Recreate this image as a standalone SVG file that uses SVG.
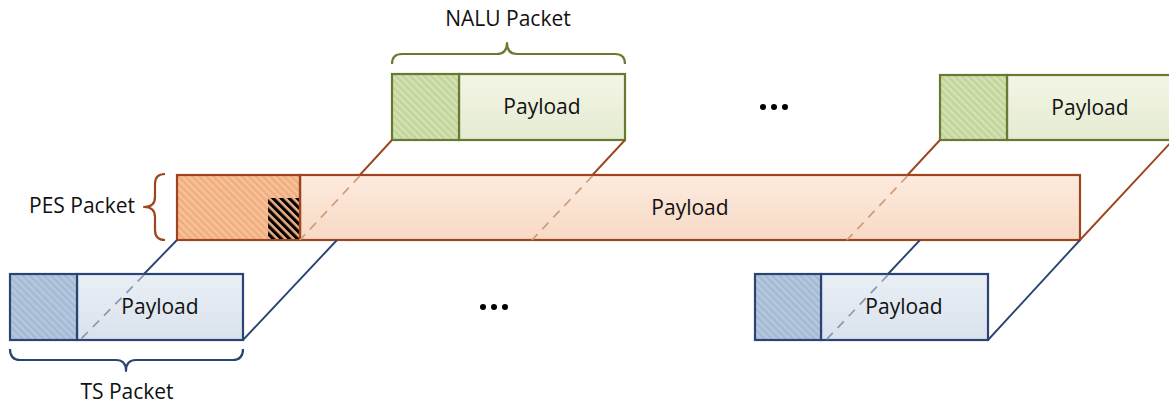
<svg xmlns="http://www.w3.org/2000/svg" width="1169" height="407" viewBox="0 0 1169 407">
  <style>
    .lbl { font-family: "Open Sans", "Liberation Sans", sans-serif; font-size: 21px; fill: #111; }
    .mid { text-anchor: middle; }
    .end { text-anchor: end; }
    .g-box { stroke: #687a30; stroke-width: 2.2; }
    .o-box { stroke: #9e4520; stroke-width: 2.2; }
    .b-box { stroke: #2a4474; stroke-width: 2.2; }
    .brace { fill: none; stroke-width: 2.2; stroke-linejoin: round; }
    .o-line { stroke: #9e4520; stroke-width: 1.9; fill: none; }
    .o-dash { stroke: #cf9c78; stroke-width: 1.7; stroke-dasharray: 9 7; fill: none; }
    .b-line { stroke: #2a4474; stroke-width: 1.9; fill: none; }
    .b-dash { stroke: #8797b4; stroke-width: 1.7; stroke-dasharray: 9 7; fill: none; }
    .dot { fill: #000; }
  </style>
  <defs>
    <linearGradient id="gradG" x1="0" y1="0" x2="0" y2="1">
      <stop offset="0" stop-color="#f2f5e5"/>
      <stop offset="1" stop-color="#e5ebd2"/>
    </linearGradient>
    <linearGradient id="gradO" x1="0" y1="0" x2="0" y2="1">
      <stop offset="0" stop-color="#fdebde"/>
      <stop offset="1" stop-color="#f7d9c5"/>
    </linearGradient>
    <linearGradient id="gradB" x1="0" y1="0" x2="0" y2="1">
      <stop offset="0" stop-color="#eaeff5"/>
      <stop offset="1" stop-color="#d9e2ec"/>
    </linearGradient>
    <!-- diagonal stripe fills for the header cells -->
    <pattern id="hatchG" width="5" height="5" patternUnits="userSpaceOnUse" patternTransform="rotate(-45)">
      <rect width="5" height="5" fill="#d3e1b5"/>
      <rect width="2.5" height="5" fill="#c2d499"/>
    </pattern>
    <pattern id="hatchO" width="5" height="5" patternUnits="userSpaceOnUse" patternTransform="rotate(-45)">
      <rect width="5" height="5" fill="#f6c19b"/>
      <rect width="2.5" height="5" fill="#f0ad7e"/>
    </pattern>
    <pattern id="hatchB" width="5" height="5" patternUnits="userSpaceOnUse" patternTransform="rotate(-45)">
      <rect width="5" height="5" fill="#b6c8de"/>
      <rect width="2.5" height="5" fill="#a4bad4"/>
    </pattern>
    <pattern id="hatchK" width="5.7" height="5.7" patternUnits="userSpaceOnUse" patternTransform="rotate(-45)">
      <rect width="5.7" height="5.7" fill="#f2b183"/>
      <rect width="3.2" height="5.7" fill="#000"/>
    </pattern>
  </defs>

  <!-- NALU packet 1 -->
  <g id="nalu1">
    <rect x="459" y="74" width="166" height="66" fill="url(#gradG)" class="g-box"/>
    <rect x="392" y="74" width="67" height="66" fill="url(#hatchG)" class="g-box"/>
    <text x="542" y="114" class="lbl mid">Payload</text>
  </g>

  <!-- NALU packet 2 -->
  <g id="nalu2">
    <rect x="1007" y="75" width="166" height="65" fill="url(#gradG)" class="g-box"/>
    <rect x="940" y="75" width="67" height="65" fill="url(#hatchG)" class="g-box"/>
    <text x="1090" y="115" class="lbl mid">Payload</text>
  </g>

  <!-- PES packet -->
  <g id="pes">
    <rect x="300" y="175" width="780" height="65" fill="url(#gradO)" class="o-box"/>
    <rect x="177" y="175" width="123" height="65" fill="url(#hatchO)" class="o-box"/>
    <rect x="268" y="198" width="31" height="41" fill="url(#hatchK)"/>
    <line x1="300" y1="175" x2="300" y2="240" class="o-box"/>
    <text x="690" y="215" class="lbl mid">Payload</text>
  </g>

  <!-- TS packet 1 -->
  <g id="ts1">
    <rect x="77" y="274" width="166" height="66" fill="url(#gradB)" class="b-box"/>
    <rect x="10" y="274" width="67" height="66" fill="url(#hatchB)" class="b-box"/>
    <text x="160" y="314" class="lbl mid">Payload</text>
  </g>

  <!-- TS packet 2 -->
  <g id="ts2">
    <rect x="821" y="274" width="167" height="66" fill="url(#gradB)" class="b-box"/>
    <rect x="755" y="274" width="66" height="66" fill="url(#hatchB)" class="b-box"/>
    <text x="904" y="314" class="lbl mid">Payload</text>
  </g>

  <!-- mapping lines between layers: solid outside a box, dashed inside it -->
  <g id="connectors">
    <line x1="392" y1="140" x2="359.8" y2="175" class="o-line"/>
    <line x1="359.8" y1="176" x2="300" y2="240" class="o-dash"/>
    <line x1="625" y1="140" x2="592.5" y2="175" class="o-line"/>
    <line x1="592.5" y1="176" x2="532" y2="240" class="o-dash"/>
    <line x1="940" y1="140" x2="907.5" y2="175" class="o-line"/>
    <line x1="907.5" y1="176" x2="847" y2="240" class="o-dash"/>
    <line x1="1173" y1="140" x2="1080" y2="240" class="o-line"/>

    <line x1="177" y1="240" x2="144" y2="274" class="b-line"/>
    <line x1="144" y1="275" x2="80" y2="340" class="b-dash"/>
    <line x1="337" y1="240" x2="243" y2="340" class="b-line"/>
    <line x1="920" y1="240" x2="888" y2="274" class="b-line"/>
    <line x1="888" y1="275" x2="826" y2="340" class="b-dash"/>
    <line x1="1080" y1="240" x2="988" y2="340" class="b-line"/>
  </g>

  <!-- braces and labels -->
  <g id="nalu-label">
    <path class="brace" stroke="#687a30" d="M392,64 Q392,54 402,54 L497,54 Q507,54 507,43 Q507,54 517,54 L615,54 Q625,54 625,64"/>
    <text x="508" y="26" class="lbl mid">NALU Packet</text>
  </g>
  <g id="pes-label">
    <path class="brace" stroke="#9e4520" d="M165,174 Q155,174 155,184 L155,197 Q155,207 144,207 Q155,207 155,217 L155,230 Q155,240 165,240"/>
    <text x="135" y="213" class="lbl end">PES Packet</text>
  </g>
  <g id="ts-label">
    <path class="brace" stroke="#2a4474" d="M10,349 Q10,360 20,360 L116,360 Q126,360 126,371 Q126,360 136,360 L233,360 Q243,360 243,349"/>
    <text x="127" y="399" class="lbl mid">TS Packet</text>
  </g>

  <!-- ellipses -->
  <g id="more-nalu">
    <circle cx="763" cy="107" r="3" class="dot"/>
    <circle cx="774" cy="107" r="3" class="dot"/>
    <circle cx="785" cy="107" r="3" class="dot"/>
  </g>
  <g id="more-ts">
    <circle cx="483" cy="307" r="3" class="dot"/>
    <circle cx="494" cy="307" r="3" class="dot"/>
    <circle cx="505" cy="307" r="3" class="dot"/>
  </g>
</svg>
